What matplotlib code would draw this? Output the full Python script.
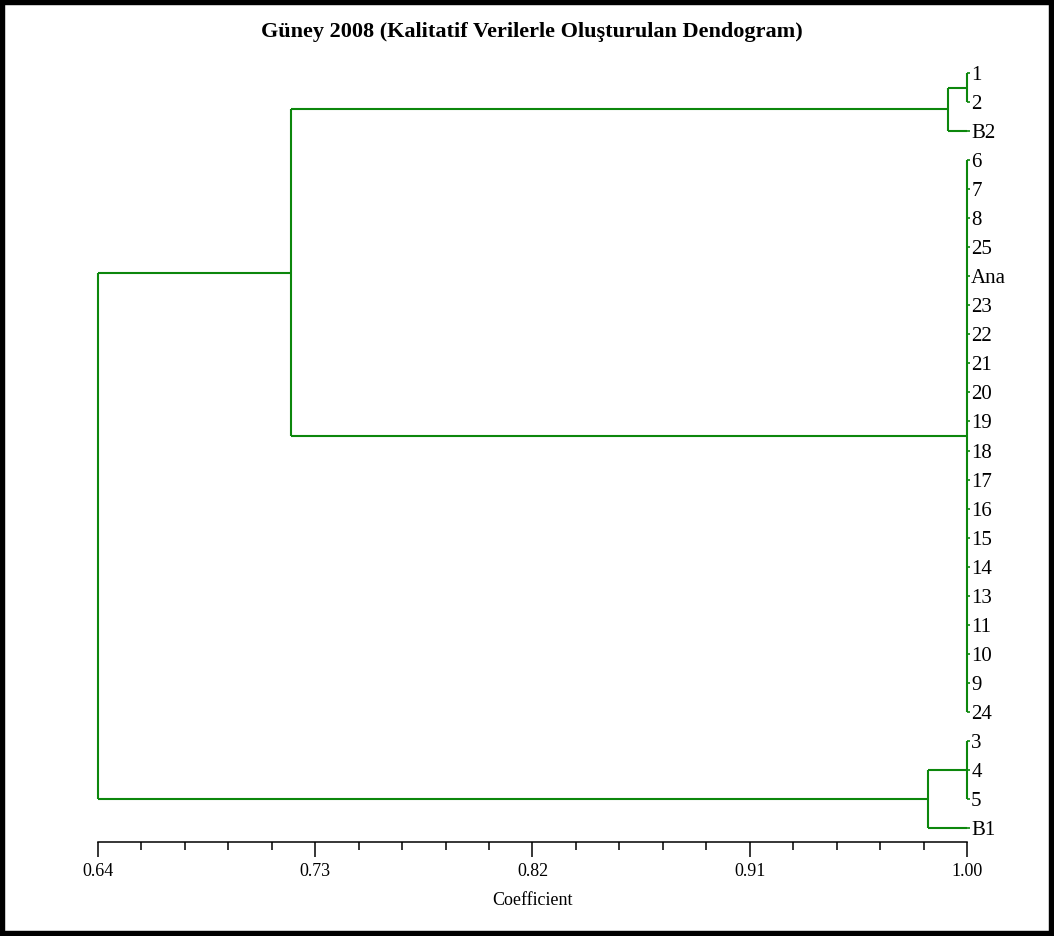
import matplotlib
matplotlib.use("Agg")
import matplotlib.pyplot as plt
from matplotlib.patches import Rectangle
import numpy as np

plt.rcParams['font.family'] = ['Liberation Serif', 'DejaVu Serif']

# leaf order top -> bottom
leaves = ["1", "2", "B2", "6", "7", "8", "25", "Ana", "23", "22", "21", "20",
          "19", "18", "17", "16", "15", "14", "13", "11", "10", "9", "24",
          "3", "4", "5", "B1"]

# groups joined at coefficient 1.00
group_a = ["1", "2"]
group_b = ["6", "7", "8", "25", "Ana", "23", "22", "21", "20", "19", "18", "17",
           "16", "15", "14", "13", "11", "10", "9", "24"]
group_c = ["3", "4", "5"]

# merge levels
h_a_b2 = 0.992
h_c_b1 = 0.984
h_upper = 0.72
h_root = 0.64

tree = (h_root, [
    (h_upper, [
        (h_a_b2, [(1.00, group_a), "B2"]),
        (1.00, group_b),
    ]),
    (h_c_b1, [(1.00, group_c), "B1"]),
])

xticks_major = [0.64, 0.73, 0.82, 0.91, 1.00]
green = "#0c870c"

fig = plt.figure(figsize=(10.54, 9.36), dpi=100)
ax = fig.add_axes([98/1054, 1-842/936, (967-98)/1054, (842-60)/936])


def draw(node):
    # returns (x, y) of node
    if isinstance(node, str):
        return 1.00, leaves.index(node)
    h, kids = node
    pts = [draw(k) for k in kids]
    ys = [p[1] for p in pts]
    for x, y in pts:
        if x != h:
            ax.plot([h, x], [y, y], color=green, lw=1.5, clip_on=False,
                    solid_capstyle='butt')
    ax.plot([h, h], [min(ys), max(ys)], color=green, lw=1.5, clip_on=False,
            solid_capstyle='butt')
    return h, (min(ys) + max(ys)) / 2


draw(tree)

ax.set_xlim(0.64, 1.00)
n = len(leaves)
ax.set_ylim((842-73)/29.04, (60-73)/29.04)

for s in ["left", "top", "right"]:
    ax.spines[s].set_visible(False)
ax.spines["bottom"].set_linewidth(1.1)

ax.set_xticks(xticks_major)
ax.set_xticklabels(["%.2f" % v for v in xticks_major], fontsize=13)
ax.set_xticks(np.arange(0.64, 1.0001, 0.018), minor=True)
ax.tick_params(axis='x', which='major', length=11, width=1.1, pad=4)
ax.tick_params(axis='x', which='minor', length=6, width=1.1)
ax.set_xlabel("Coefficient", fontsize=13, labelpad=9)

ax.yaxis.tick_right()
ax.set_yticks(range(n))
ax.set_yticklabels(leaves, fontsize=15)
ax.tick_params(axis='y', length=2, width=1.2, color=green, pad=1)

fig.text(532/1054, 1-32/936, "Güney 2008 (Kalitatif Verilerle Oluşturulan Dendogram)",
         ha='center', va='center', fontsize=16, fontweight='bold')

fig.patches.append(Rectangle((0, 0), 1, 1, transform=fig.transFigure, fill=False,
                             lw=7.5, ec='black'))

fig.savefig("out.png", dpi=100)
